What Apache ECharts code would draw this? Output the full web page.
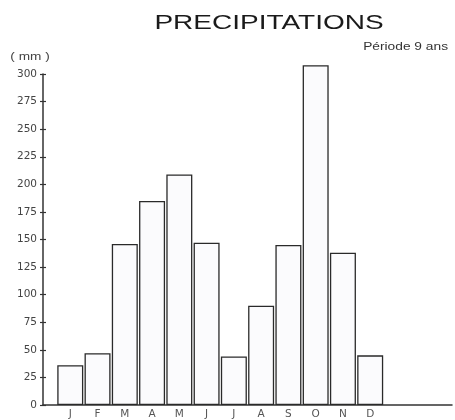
<!DOCTYPE html>
<html>
<head>
<meta charset="utf-8">
<script src="https://cdn.jsdelivr.net/npm/echarts@6/dist/echarts.min.js"></script>
<style>
html,body{margin:0;padding:0;background:#fff;}
#chart{width:455px;height:420px;}
</style>
</head>
<body>
<div id="chart"></div>
<script>
const months = ['J','F','M','A','M','J','J','A','S','O','N','D'];
const precipitation = [36, 47, 146, 185, 209, 147, 44, 90, 145, 308, 138, 45];
const yMin = 0, yMax = 300, yStep = 25;
const titleText = 'PRECIPITATIONS';
const periodText = 'Période 9 ans';
const unitText = '( mm )';

// one empty slot before January, three after December (axis runs to the edge)
const categories = [''].concat(months, ['', '', '']);
const seriesData = [null].concat(precipitation, [null, null, null]);

const chart = echarts.init(document.getElementById('chart'), null, {renderer: 'canvas'});
const axisColor = '#333';
const labelFont = 'DejaVu Sans';

chart.setOption({
  animation: false,
  backgroundColor: '#ffffff',
  grid: {left: 43, right: -5, top: 74, bottom: 12, containLabel: false},
  xAxis: {
    type: 'category',
    data: categories,
    boundaryGap: false,
    axisLine: {show: true, lineStyle: {color: axisColor, width: 1.5}},
    axisTick: {show: false},
    axisLabel: {color: '#555', fontFamily: labelFont, fontSize: 10.5, margin: 4, interval: 0},
    splitLine: {show: false}
  },
  yAxis: [{
    type: 'value',
    min: yMin, max: yMax, interval: yStep,
    axisLine: {show: true, lineStyle: {color: axisColor, width: 1.5}},
    axisTick: {show: true, length: 3, lineStyle: {color: axisColor, width: 1.2}},
    axisLabel: {color: '#444', fontFamily: labelFont, fontSize: 10.5, margin: 6},
    splitLine: {show: false}
  }, {
    type: 'value',
    position: 'left',
    min: yMin, max: yMax, interval: yStep,
    axisLine: {show: false},
    axisTick: {show: true, inside: true, length: 3, lineStyle: {color: axisColor, width: 1.2}},
    axisLabel: {show: false},
    splitLine: {show: false}
  }],
  series: [{
    type: 'bar',
    data: seriesData,
    barWidth: 26,
    clip: false,
    itemStyle: {color: '#fbfbfd', borderColor: '#2a2a2a', borderWidth: 1.3}
  }],
  graphic: [
    {type: 'text', x: 269, y: 23, scaleX: 1.4,
     style: {text: titleText, font: '20px "Liberation Sans", Arial, sans-serif', fill: '#1a1a1a',
             textAlign: 'center', textVerticalAlign: 'middle'}},
    {type: 'text', x: 448, y: 47, scaleX: 1.25,
     style: {text: periodText, font: '11px "Liberation Sans", Arial, sans-serif', fill: '#333',
             textAlign: 'right', textVerticalAlign: 'middle'}},
    {type: 'text', x: 30, y: 57, scaleX: 1.3,
     style: {text: unitText, font: '10.5px "Liberation Sans", Arial, sans-serif', fill: '#444',
             textAlign: 'center', textVerticalAlign: 'middle'}}
  ]
});
</script>
</body>
</html>
